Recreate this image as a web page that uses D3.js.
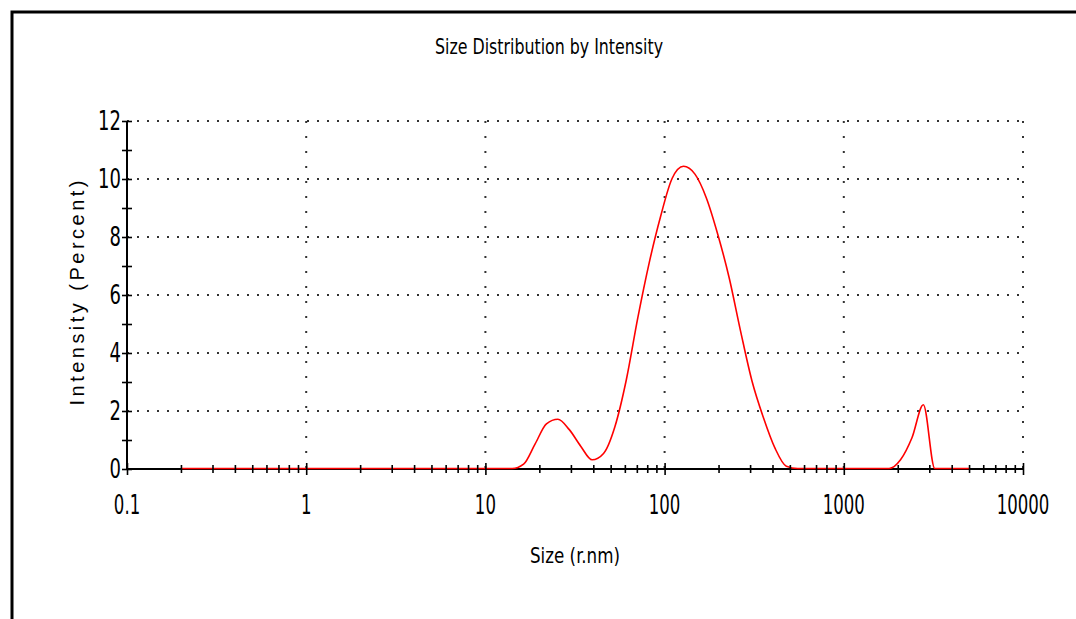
<!DOCTYPE html>
<html>
<head>
<meta charset="utf-8">
<script src="https://cdn.jsdelivr.net/npm/d3@7"></script>
<style>
  body { margin: 0; background: #fff; }
  svg { display: block; }
</style>
</head>
<body>
<svg></svg>
<script>
// size bins (radius, nm) and intensity (%)
const sizes = [0.2, 0.2316, 0.2683, 0.3107, 0.3597, 0.4166, 0.4825, 0.5586, 0.647, 0.7495,
  0.868, 1.005, 1.164, 1.348, 1.561, 1.808, 2.094, 2.424, 2.808, 3.252,
  3.766, 4.361, 5.05, 5.85, 6.77, 7.845, 9.085, 10.52, 12.18, 14.1,
  16.34, 18.92, 21.91, 25.38, 29.39, 34.03, 39.41, 45.64, 52.85, 61.2,
  70.9, 82.1, 95.05, 110.1, 127.5, 147.7, 171.0, 198.1, 229.4, 265.6,
  307.6, 356.2, 412.5, 477.7, 553, 640.5, 742, 859, 995, 1152,
  1335, 1546, 1790, 2073, 2401, 2780, 3220, 3728, 4318, 5000]
const intensity = [0, 0, 0, 0, 0, 0, 0, 0, 0, 0,
  0, 0, 0, 0, 0, 0, 0, 0, 0, 0,
  0, 0, 0, 0, 0, 0, 0, 0, 0, 0,
  0.15, 0.84, 1.54, 1.7, 1.34, 0.77, 0.3, 0.52, 1.45, 3.07,
  5.2, 7.1, 8.7, 10.0, 10.42, 10.15, 9.33, 8.07, 6.57, 4.73,
  3.01, 1.75, 0.71, 0.08, 0, 0, 0, 0, 0, 0,
  0, 0, 0, 0.3, 1.06, 2.2, 0, 0, 0, 0]

const xLabels = [0.1, 1, 10, 100, 1000, 10000]
const yTicks = [0, 1, 2, 3, 4, 5, 6, 7, 8, 9, 10, 11, 12]
const yLabels = [0, 2, 4, 6, 8, 10, 12]

const title = "Size Distribution by Intensity"
const xTitle = "Size (r.nm)"
const yTitle = "Intensity (Percent)"

let width = 1076
let height = 619
let plotLeft = 127
let plotRight = 1023
let plotTop = 121
let plotBottom = 469

const narrow = "'Liberation Sans Narrow', 'Arial Narrow', 'DejaVu Sans Condensed', sans-serif"

let svg = d3.select("svg")
  .attr("width", width)
  .attr("height", height)

// frame
svg.append("rect")
  .attr("x", 12).attr("y", 12)
  .attr("width", 1200).attr("height", 800)
  .attr("fill", "none")
  .attr("stroke", "#000")
  .attr("stroke-width", 3)

let xScale = d3.scaleLog()
  .domain([0.1, 10000])
  .range([plotLeft, plotRight])

let yScale = d3.scaleLinear()
  .domain([0, 12])
  .range([plotBottom, plotTop])

// dotted grid
svg.append("g")
  .selectAll("line")
  .data(yLabels.filter(d => d > 0))
  .enter()
  .append("line")
  .attr("x1", plotLeft)
  .attr("x2", plotRight)
  .attr("y1", d => yScale(d))
  .attr("y2", d => yScale(d))
  .attr("stroke", "#333")
  .attr("stroke-width", 2)
  .attr("stroke-dasharray", "2 8")

svg.append("g")
  .selectAll("line")
  .data(xLabels.filter(d => d > 0.1))
  .enter()
  .append("line")
  .attr("x1", d => xScale(d))
  .attr("x2", d => xScale(d))
  .attr("y1", plotTop)
  .attr("y2", plotBottom)
  .attr("stroke", "#333")
  .attr("stroke-width", 2)
  .attr("stroke-dasharray", "2 13")

// axis lines
svg.append("line")
  .attr("x1", plotLeft).attr("x2", plotRight)
  .attr("y1", plotBottom).attr("y2", plotBottom)
  .attr("stroke", "#000").attr("stroke-width", 2)

svg.append("line")
  .attr("x1", plotLeft).attr("x2", plotLeft)
  .attr("y1", plotTop).attr("y2", plotBottom)
  .attr("stroke", "#000").attr("stroke-width", 2)

// curve
let points = sizes.map((s, i) => ({ size: s, value: intensity[i] }))

let line = d3.line()
  .x(d => xScale(d.size))
  .y(d => yScale(d.value) - 0.5)
  .curve(d3.curveMonotoneX)

svg.append("path")
  .datum(points)
  .attr("d", line)
  .attr("fill", "none")
  .attr("stroke", "#ff0000")
  .attr("stroke-width", 1.6)

// ticks (cross the axis lines)
let xAxis = d3.axisBottom(xScale)
  .tickValues(xScale.ticks())
  .tickSize(4)
  .tickSizeOuter(0)
  .tickFormat("")

svg.append("g")
  .attr("transform", "translate(0," + plotBottom + ")")
  .call(xAxis)
  .call(g => g.select(".domain").remove())
  .call(g => g.selectAll(".tick line")
    .attr("y1", d => xLabels.includes(d) ? -6 : -4)
    .attr("y2", d => xLabels.includes(d) ? 6 : 4)
    .attr("stroke", "#000")
    .attr("stroke-width", 1.6))

let yAxis = d3.axisLeft(yScale)
  .tickValues(yTicks)
  .tickSize(5)
  .tickSizeOuter(0)
  .tickFormat("")

svg.append("g")
  .attr("transform", "translate(" + plotLeft + ",0)")
  .call(yAxis)
  .call(g => g.select(".domain").remove())
  .call(g => g.selectAll(".tick line")
    .attr("x1", -5)
    .attr("x2", 5)
    .attr("stroke", "#000")
    .attr("stroke-width", 1.6))

// tick labels
svg.append("g")
  .selectAll("text")
  .data(xLabels)
  .enter()
  .append("text")
  .attr("transform", d => "translate(" + xScale(d) + ",514) scale(0.92,1.3)")
  .attr("text-anchor", "middle")
  .attr("font-family", narrow)
  .attr("font-size", 20)
  .attr("fill", "#000")
  .text(d => d)

svg.append("g")
  .selectAll("text")
  .data(yLabels)
  .enter()
  .append("text")
  .attr("transform", d => "translate(121," + (yScale(d) + 9) + ") scale(1,1.3)")
  .attr("text-anchor", "end")
  .attr("font-family", narrow)
  .attr("font-size", 20)
  .attr("fill", "#000")
  .text(d => d)

// titles
svg.append("text")
  .attr("transform", "translate(549,54) scale(1,1.15)")
  .attr("text-anchor", "middle")
  .attr("font-family", narrow)
  .attr("font-size", 18)
  .attr("textLength", 228)
  .attr("lengthAdjust", "spacingAndGlyphs")
  .text(title)

svg.append("text")
  .attr("transform", "translate(575,563) scale(1,1.15)")
  .attr("text-anchor", "middle")
  .attr("font-family", narrow)
  .attr("font-size", 19)
  .attr("textLength", 90)
  .attr("lengthAdjust", "spacingAndGlyphs")
  .text(xTitle)

svg.append("text")
  .attr("transform", "translate(84,293) rotate(-90)")
  .attr("text-anchor", "middle")
  .attr("font-family", "'Liberation Sans', Arial, sans-serif")
  .attr("font-size", 20)
  .attr("textLength", 225)
  .attr("lengthAdjust", "spacing")
  .text(yTitle)
</script>
</body>
</html>
